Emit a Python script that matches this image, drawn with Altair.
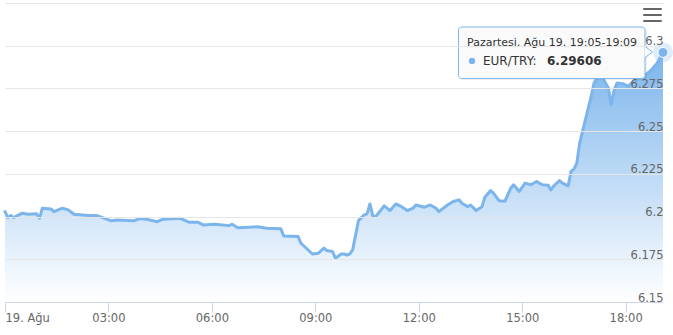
import altair as alt
import pandas as pd

# ---- data ----
times = ["00:00","00:05","00:10","00:15","00:30","00:40","00:55","01:00","01:05","01:20",
         "01:25","01:40","01:50","02:00","02:25","02:40","02:50","03:05","03:15","03:45",
         "03:55","04:05","04:25","04:35","04:45","05:05","05:20","05:35","05:45","06:05",
         "06:30","06:35","06:45","07:05","07:20","07:35","08:00","08:05","08:30","08:35",
         "08:55","09:05","09:15","09:20","09:30","09:35","09:45","09:50","09:55","10:00",
         "10:05","10:15","10:25","10:30","10:35","10:40","10:45","11:00","11:10","11:20",
         "11:30","11:40","11:50","11:55","12:10","12:20","12:30","12:35","12:50","13:00",
         "13:10","13:15","13:25","13:30","13:40","13:50","13:55","14:05","14:10","14:20",
         "14:30","14:40","14:45","14:55","15:05","15:15","15:25","15:35","15:45","15:50",
         "15:55","16:05","16:10","16:20","16:25","16:30","16:35","16:40","16:50","17:00",
         "17:05","17:15","17:20","17:30","17:35","17:40","17:45","17:55","18:05","18:10",
         "18:20","18:30","18:35","18:45","18:55","19:05"]
rates = [6.2029,6.1994,6.2006,6.1994,6.2020,6.2014,6.2016,6.1990,6.2049,6.2045,
         6.2029,6.2049,6.2039,6.2014,6.2006,6.2006,6.1994,6.1975,6.1980,6.1976,
         6.1988,6.1985,6.1970,6.1985,6.1986,6.1990,6.1967,6.1967,6.1951,6.1955,
         6.1947,6.1955,6.1935,6.1938,6.1941,6.1932,6.1928,6.1887,6.1883,6.1844,
         6.1781,6.1785,6.1815,6.1801,6.1795,6.1756,6.1781,6.1781,6.1775,6.1781,
         6.1805,6.1976,6.2010,6.2016,6.2074,6.2004,6.2000,6.2063,6.2035,6.2074,
         6.2058,6.2035,6.2049,6.2068,6.2055,6.2068,6.2049,6.2029,6.2068,6.2088,
         6.2098,6.2078,6.2058,6.2068,6.2035,6.2058,6.2113,6.2152,6.2137,6.2092,
         6.2090,6.2166,6.2186,6.2147,6.2196,6.2186,6.2205,6.2186,6.2184,6.2156,
         6.2180,6.2211,6.2196,6.2180,6.2264,6.2278,6.2313,6.2430,6.2567,6.2703,
         6.2782,6.2835,6.2811,6.2752,6.2655,6.2742,6.2782,6.2778,6.2762,6.2782,
         6.2801,6.2820,6.2830,6.2859,6.2899,6.29606]

day = "2019-08-19"
x_tick_hours = [0, 3, 6, 9, 12, 15, 18]
y_ticks = [6.15, 6.175, 6.2, 6.225, 6.25, 6.275, 6.3, 6.325]
y_domain = [6.15, 6.325]
series_name = "EUR/TRY"
day_label = "19. Ağu"
header_prefix = "Pazartesi, Ağu 19, "
bin_end = "19:09"

BLUE = "#7cb5ec"

df = pd.DataFrame({"time": pd.to_datetime([f"{day} {t}" for t in times]), "rate": rates})
last = df.tail(1)

end_h, end_m = map(int, times[-1].split(":"))
x_scale = alt.Scale(domain=[alt.DateTime(year=2019, month=8, date=19, hours=0, minutes=0),
                            alt.DateTime(year=2019, month=8, date=19, hours=end_h, minutes=end_m)],
                    nice=False)
x_axis = alt.Axis(
    values=[alt.DateTime(year=2019, month=8, date=19, hours=h) for h in x_tick_hours],
    labelExpr=f"hours(datum.value) == 0 ? '{day_label}' : timeFormat(datum.value, '%H:%M')",
    title=None, grid=False, domainColor="#ccd6eb", tickColor="#ccd6eb", tickSize=10,
    labelPadding=0, labelFlush=True, labelColor="#666666", labelFontSize=11.5,
    labelFont="DejaVu Sans", labelOverlap=False, zindex=1,
)
y_scale = alt.Scale(domain=y_domain, nice=False, zero=False)
y_axis = alt.Axis(
    orient="right", values=y_ticks, title=None, domain=False, ticks=False, tickSize=0,
    labelAlign="right", labelPadding=0, labelBaseline="alphabetic", labelOffset=-1,
    labelExpr="datum.value > 6.31 ? '' : format(datum.value, '.4~f')",
    labelColor="#666666", labelFontSize=11.5, labelFont="DejaVu Sans",
    gridColor="#e6e6e6", labelOverlap=False, labelBound=False, zindex=1,
)

X = alt.X("time:T", scale=x_scale, axis=x_axis)
Y = alt.Y("rate:Q", scale=y_scale, axis=y_axis)

grad = alt.Gradient(gradient="linear",
                    stops=[alt.GradientStop(color=BLUE, offset=0),
                           alt.GradientStop(color="#ffffff", offset=1)],
                    x1=1, x2=1, y1=0, y2=1)

base = alt.Chart(df)
area = base.mark_area(color=grad).encode(x=X, y=Y, y2=alt.datum(y_domain[0]))
line = base.mark_line(color=BLUE, strokeWidth=3, strokeJoin="round", strokeCap="round").encode(x=X, y=Y)

halo = alt.Chart(last).mark_point(filled=True, shape="circle", size=400, color=BLUE, opacity=0.25).encode(
    x="time:T", y="rate:Q")
marker = alt.Chart(last).mark_point(filled=True, shape="circle", size=100, fill=BLUE,
                                    stroke="#ffffff", strokeWidth=1, opacity=1).encode(
    x="time:T", y="rate:Q")

one = pd.DataFrame({"k": [0]})
# tooltip box (pixel coordinates relative to plot origin)
shadow = alt.Chart(one).mark_rect(cornerRadius=3, fill="#000000", fillOpacity=0.06).encode(
    x=alt.value(455), x2=alt.value(642), y=alt.value(25), y2=alt.value(77))
box = alt.Chart(one).mark_rect(cornerRadius=3, fill="#fafafa", fillOpacity=1,
                               stroke=BLUE, strokeWidth=1).encode(
    x=alt.value(453.5), x2=alt.value(640), y=alt.value(24), y2=alt.value(75.5))
arrow = alt.Chart(one).mark_point(shape="M0,-1L1.33,0L0,1", filled=True, size=144,
                                  fill="#fafafa", stroke=BLUE, strokeWidth=1, opacity=1).encode(
    x=alt.value(639.5), y=alt.value(49))

tip_df = pd.DataFrame({"header": [f"{header_prefix}{times[-1]}-{bin_end}"],
                       "name": [f"{series_name}:"],
                       "val": [f"{rates[-1]:.5f}"]})
tip = alt.Chart(tip_df)
header = tip.mark_text(align="left", baseline="middle", fontSize=11, font="DejaVu Sans",
                       color="#333333").encode(x=alt.value(462), y=alt.value(40), text="header:N")
bullet = alt.Chart(one).mark_point(filled=True, shape="circle", size=40, color=BLUE, opacity=1).encode(
    x=alt.value(467), y=alt.value(58))
name = tip.mark_text(align="left", baseline="middle", fontSize=12, font="DejaVu Sans",
                     color="#333333").encode(x=alt.value(478), y=alt.value(58), text="name:N")
val = tip.mark_text(align="left", baseline="middle", fontSize=12, font="DejaVu Sans",
                    fontWeight="bold", color="#333333").encode(x=alt.value(542), y=alt.value(58), text="val:N")

# context menu icon (three bars)
menu = [alt.Chart(one).mark_rule(color="#666666", strokeWidth=2, strokeCap="round").encode(
    x=alt.value(639), x2=alt.value(656), y=alt.value(yy)) for yy in (6, 12, 18)]

chart = alt.layer(area, line, halo, marker, shadow, box, arrow, header, bullet, name, val, *menu).properties(
    width=658, height=299,
    autosize=alt.AutoSizeParams(type="none"),
    padding={"left": 5, "top": 3, "right": 10, "bottom": 33},
    background="#ffffff",
).configure_view(strokeWidth=0)

chart.save("out.html", embed_options={"renderer": "svg", "actions": False})
